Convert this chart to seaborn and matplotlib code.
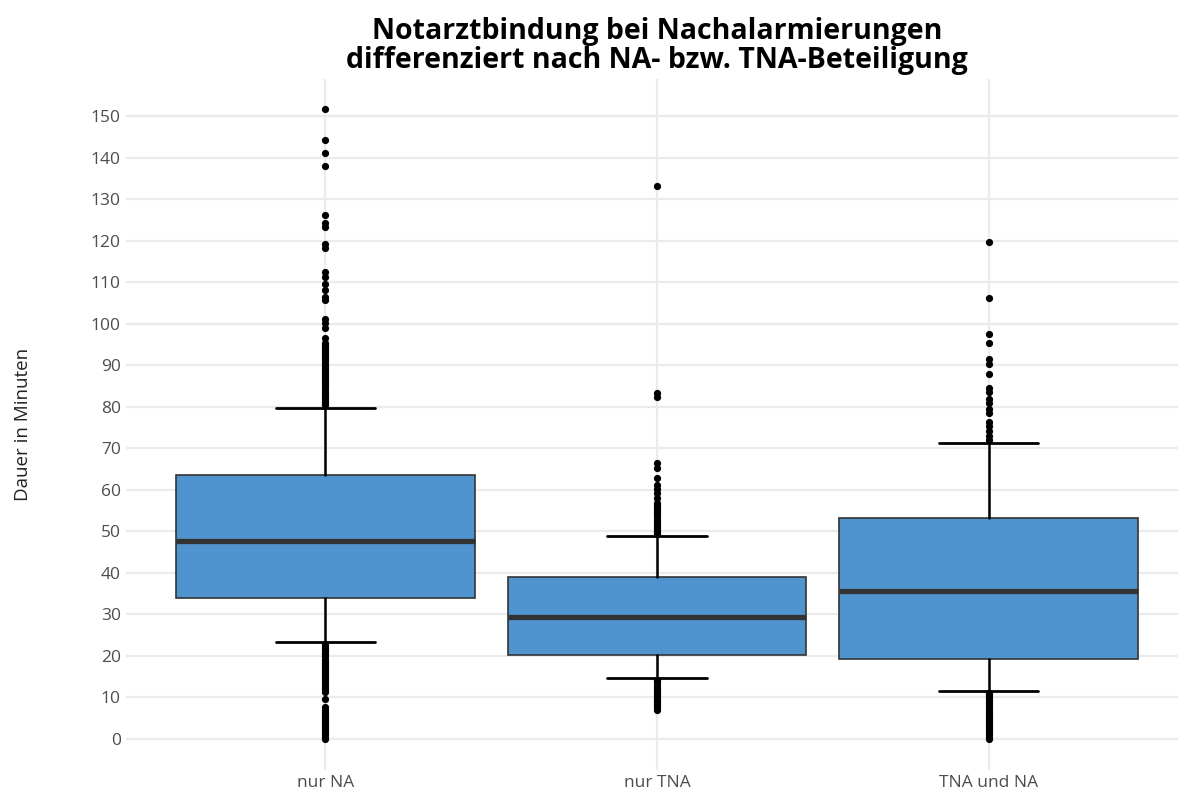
import pandas as pd
import matplotlib.pyplot as plt
import seaborn as sns

# categories and box statistics
categories = ['nur NA', 'nur TNA', 'TNA und NA']
q1 = [33.9, 20.2, 19.3]
median = [47.7, 29.4, 35.6]
q3 = [63.6, 39.0, 53.2]
whisker_low = [23.3, 14.7, 11.6]
whisker_high = [79.7, 48.9, 71.3]

# outliers per category
outliers_nur_na = [
    0.0, 0.5, 1.0, 1.5, 2.0, 2.5, 3.0, 3.5, 4.0, 4.5, 5.0, 5.5, 6.0, 6.5, 7.0, 7.6,
    9.6,
    11.3, 11.8, 12.3, 12.8, 13.3, 13.8, 14.3, 14.8, 15.3, 15.8, 16.3, 16.8, 17.3,
    17.8, 18.3, 18.8, 19.3, 19.8, 20.3, 20.8, 21.3, 21.8, 22.3, 22.8,
    80.4, 80.9, 81.4, 81.9, 82.4, 82.9, 83.4, 83.9, 84.4, 84.9, 85.4, 85.9, 86.4,
    86.9, 87.4, 87.9, 88.4, 88.9, 89.4, 89.9, 90.4, 90.9, 91.4, 91.9, 92.4, 92.9,
    93.4, 93.9, 94.4, 94.9, 95.3,
    96.6, 98.9, 100.1, 101.1, 105.7, 106.5, 108.1, 109.5, 111.3, 112.5, 118.2,
    119.2, 123.4, 124.2, 126.3, 138.0, 141.2, 144.3, 151.7,
]
outliers_nur_tna = [
    6.8, 7.3, 7.8, 8.3, 8.8, 9.3, 9.8, 10.3, 10.8, 11.3, 11.8, 12.3, 12.8, 13.3,
    13.8, 14.2,
    49.3, 49.8, 50.3, 50.8, 51.3, 51.8, 52.3, 52.8, 53.3, 53.8, 54.3, 54.8, 55.3,
    55.8, 56.3, 56.8,
    58.0, 59.2, 60.2, 61.2, 62.8, 65.3, 66.4, 82.4, 83.3, 133.2,
]
outliers_tna_na = [
    0.0, 0.5, 1.0, 1.5, 2.0, 2.5, 3.0, 3.5, 4.0, 4.5, 5.0, 5.5, 6.0, 6.5, 7.0, 7.5,
    8.0, 8.5, 9.0, 9.5, 10.0, 10.5, 11.0,
    72.0, 73.0, 74.2, 75.4, 76.4, 78.4, 79.4, 81.0, 81.8, 83.6, 84.6, 87.9, 90.3,
    91.4, 95.4, 97.5, 106.1, 119.6,
]

outlier_df = pd.concat([
    pd.DataFrame({'Gruppe': categories[0], 'Dauer': outliers_nur_na}),
    pd.DataFrame({'Gruppe': categories[1], 'Dauer': outliers_nur_tna}),
    pd.DataFrame({'Gruppe': categories[2], 'Dauer': outliers_tna_na}),
], ignore_index=True)

sns.set_theme(style='whitegrid')
plt.rcParams['font.family'] = ['Open Sans', 'DejaVu Sans']

fig = plt.figure(figsize=(11.8, 8.01), dpi=100)
ax = fig.add_axes([0.107, 0.039, 0.891, 0.862])

stats = []
for i, name in enumerate(categories):
    stats.append({'label': name, 'q1': q1[i], 'med': median[i], 'q3': q3[i],
                  'whislo': whisker_low[i], 'whishi': whisker_high[i], 'fliers': []})

ax.bxp(stats, positions=range(len(categories)), widths=0.9, capwidths=0.3,
       patch_artist=True, showfliers=False,
       boxprops=dict(facecolor='#4f93cf', edgecolor='#333333', linewidth=1.2),
       medianprops=dict(color='#333333', linewidth=3.8, solid_capstyle='butt'),
       whiskerprops=dict(color='black', linewidth=1.8),
       capprops=dict(color='black', linewidth=2.0),
       zorder=2)

sns.stripplot(data=outlier_df, x='Gruppe', y='Dauer', order=categories,
              jitter=False, color='black', size=5.2, linewidth=0, ax=ax, zorder=3)

ax.set_xlim(-0.6, 2.57)
ax.set_ylim(-7.5, 158.9)
ax.set_yticks(range(0, 151, 10))
ax.set_xticks(range(len(categories)))
ax.set_xticklabels(categories)
ax.grid(True, color='#ebebeb', linewidth=1.6)
ax.set_axisbelow(True)
for s in ax.spines.values():
    s.set_visible(False)
ax.tick_params(axis='both', labelsize=12.5, labelcolor='#4d4d4d', length=0, pad=4)

ax.set_xlabel('')
ax.set_ylabel('Dauer in Minuten', fontsize=13.5, color='#222222')
ax.yaxis.set_label_coords(-0.09, 0.5)

fig.suptitle('Notarztbindung bei Nachalarmierungen\ndifferenziert nach NA- bzw. TNA-Beteiligung',
             x=0.557, y=0.979, fontsize=20.5, fontweight='bold', color='black', linespacing=1.0)

fig.savefig('out.png', dpi=100)
